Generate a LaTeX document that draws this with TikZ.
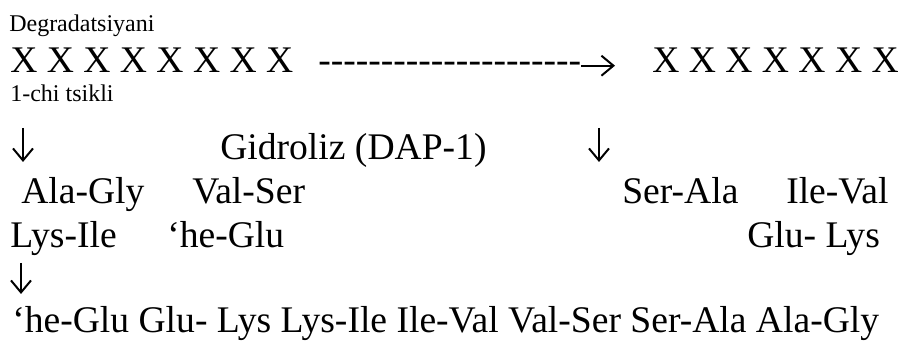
\documentclass[tikz,border=0pt]{standalone}
\usepackage{fontspec}
\setmainfont{Liberation Serif}
\usetikzlibrary{arrows.meta}
\newcommand\hyphenrow[1]{\foreach \i in {1,...,#1}{-}}
\begin{document}
\begin{tikzpicture}[x=0.75pt, y=-0.75pt,
		big/.style={anchor=base west, inner sep=0pt, font=\fontsize{28.2}{30}\selectfont},
		small/.style={anchor=base west, inner sep=0pt, font=\fontsize{18}{20}\selectfont},
		arr/.style={-{Straight Barb[length=9pt, width=15pt, line width=1.5pt]}, line width=1.4pt}]
		\useasboundingbox (0, 0) rectangle (901, 341);
		
		% Peptide chain
		\node[small] (degr) at (9, 32) {Degradatsiyani};
		\node[big] (xleft) at (10, 73) {X X X X X X X X};
		\node[big] (dashes) at (318, 73) {\hyphenrow{21}};
		\coordinate (rtip) at (615, 65.7);
		\draw[arr] (dashes.base east |- rtip) -- (rtip);
		\node[big] (xright) at (652, 73) {X X X X X X X};
		\node[small] (cycle) at (10, 102) {1-chi tsikli};
		
		% Hydrolysis
		\coordinate (d1s) at (23, 128);
		\coordinate (d1e) at (23, 162);
		\draw[arr] (d1s) -- (d1e);
		\node[big] (hydro) at (220, 160) {Gidroliz (DAP-1)};
		\coordinate (d2s) at (599, 128);
		\coordinate (d2e) at (599, 162);
		\draw[arr] (d2s) -- (d2e);
		
		% Dipeptides
		\node[big] (alagly) at (21, 204) {Ala-Gly};
		\node[big] (valser) at (192, 204) {Val-Ser};
		\node[big] (serala) at (622, 204) {Ser-Ala};
		\node[big] (ileval) at (786, 204) {Ile-Val};
		\node[big] (lysile) at (10, 248) {Lys-Ile};
		\node[big] (heglu) at (167, 248) {‘he-Glu};
		\node[big] (glulys) at (747, 248) {Glu- Lys};
		
		% Result
		\coordinate (d3s) at (21, 263);
		\coordinate (d3e) at (21, 294);
		\draw[arr] (d3s) -- (d3e);
		\node[big] (chain) at (12, 333) {‘he-Glu Glu- Lys Lys-Ile Ile-Val Val-Ser Ser-Ala Ala-Gly};
	\end{tikzpicture}
\end{document}
